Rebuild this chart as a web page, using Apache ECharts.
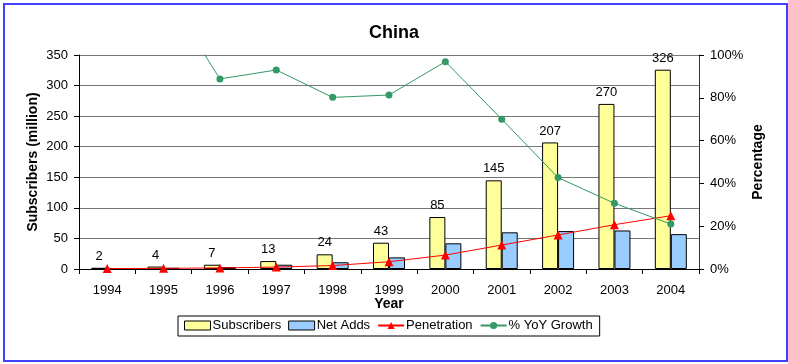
<!DOCTYPE html>
<html><head><meta charset="utf-8">
<script src="https://cdn.jsdelivr.net/npm/echarts@6/dist/echarts.min.js"></script>
<style>html,body{margin:0;padding:0;background:#fff}#frame{position:absolute;left:3px;top:3px;width:781px;height:355px;border:2px solid #4040FF}#c{position:absolute;left:0;top:0;width:788px;height:364px}</style>
</head><body><div id="frame"></div><div id="c"></div>
<script>
var years = ['1994','1995','1996','1997','1998','1999','2000','2001','2002','2003','2004'];
var subscribers = [2, 4, 7, 13, 24, 43, 85, 145, 207, 270, 326];
var netAdds = [1, 2, 3, 7, 11, 19, 42, 60, 62, 63, 57];
var penetration = [0.2, 0.3, 0.5, 0.9, 1.6, 3.4, 6.5, 11.2, 15.9, 20.7, 24.9];
var yoyGrowth = [null, 131, 88.8, 93, 80.2, 81.3, 96.9, 70, 42.7, 30.7, 21];
var leftTicks = [0, 350, 50];
var rightTicks = [0, 100, 20];

var font = 'Liberation Sans, Arial, sans-serif';
var chart = echarts.init(document.getElementById('c'), null, {renderer:'canvas'});
chart.setOption({
  animation: false,
  backgroundColor: 'transparent',
  title: {text: 'China', left: 'center', top: 19, textStyle: {fontFamily: font, fontWeight: 'bold', fontSize: 18, color: '#000'}},
  grid: {left: 79, right: 89, top: 55, bottom: 95},
  legend: {
    left: 178, top: 316, width: 430,
    borderColor: '#000', borderWidth: 1, padding: [3, 7, 4, 6],
    itemGap: 7, itemWidth: 26, itemHeight: 9,
    textStyle: {fontFamily: font, fontSize: 13, color: '#000', padding: [0,0,0,-3]},
    data: [
      {name: 'Subscribers', icon: 'rect', itemStyle: {borderColor: '#000', borderWidth: 1}},
      {name: 'Net Adds', icon: 'rect', itemStyle: {borderColor: '#000', borderWidth: 1}},
      {name: 'Penetration'},
      {name: '% YoY Growth'}
    ]
  },
  xAxis: {
    type: 'category', data: years,
    name: 'Year', nameLocation: 'middle', nameGap: 28, nameMoveOverlap: false,
    nameTextStyle: {fontFamily: font, fontWeight: 'bold', fontSize: 14, color: '#000'},
    axisLine: {lineStyle: {color: '#000', width: 1}},
    axisTick: {show: true, length: 5, lineStyle: {color: '#000'}},
    axisLabel: {fontFamily: font, fontSize: 13, color: '#000', margin: 15}
  },
  yAxis: [
    {
      type: 'value', min: leftTicks[0], max: leftTicks[1], interval: leftTicks[2],
      name: 'Subscribers (million)', nameLocation: 'middle', nameGap: 39, nameMoveOverlap: false,
      nameTextStyle: {fontFamily: font, fontWeight: 'bold', fontSize: 14, color: '#000'},
      axisLine: {show: true, lineStyle: {color: '#000'}},
      axisTick: {show: true, length: 5, lineStyle: {color: '#000'}},
      axisLabel: {fontFamily: font, fontSize: 13, color: '#000', margin: 11},
      splitLine: {show: true, lineStyle: {color: '#777', width: 1}}
    },
    {
      type: 'value', min: rightTicks[0], max: rightTicks[1], interval: rightTicks[2],
      name: 'Percentage', nameLocation: 'middle', nameGap: 52, nameMoveOverlap: false,
      nameTextStyle: {fontFamily: font, fontWeight: 'bold', fontSize: 14, color: '#000'},
      axisLine: {show: true, lineStyle: {color: '#333'}},
      axisTick: {show: true, length: 5, lineStyle: {color: '#000'}},
      axisLabel: {fontFamily: font, fontSize: 13, color: '#000', margin: 11, formatter: '{value}%'},
      splitLine: {show: false}
    }
  ],
  series: [
    {name: 'Subscribers', type: 'bar', data: subscribers, barWidth: 16, barGap: '0%',
     itemStyle: {color: '#FFFF99', borderColor: '#000', borderWidth: 1},
     label: {show: true, position: 'top', distance: 5, fontFamily: font, fontSize: 13, color: '#000'}},
    {name: 'Net Adds', type: 'bar', data: netAdds, barWidth: 16, barGap: '0%',
     itemStyle: {color: '#99CCFF', borderColor: '#000', borderWidth: 1}},
    {name: 'Penetration', type: 'line', yAxisIndex: 1, data: penetration,
     symbol: 'triangle', symbolSize: 9, lineStyle: {color: '#FF0000', width: 1},
     itemStyle: {color: '#FF0000'}},
    {name: '% YoY Growth', type: 'line', yAxisIndex: 1, data: yoyGrowth, clip: true,
     symbol: 'circle', symbolSize: 7, lineStyle: {color: '#339966', width: 1},
     itemStyle: {color: '#339966'}}
  ]
});
</script></body></html>
